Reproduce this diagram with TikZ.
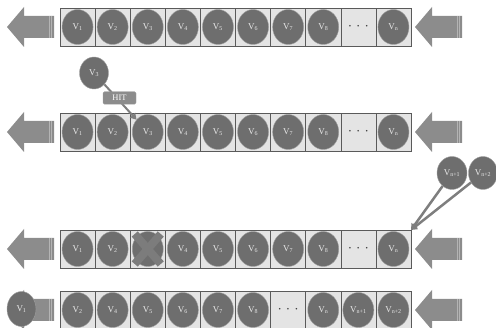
\documentclass[tikz,border=0pt]{standalone}
\usepackage{fontspec}
\setmainfont{Liberation Serif}
\usetikzlibrary{shapes.geometric,arrows.meta}
\definecolor{cellfill}{HTML}{E4E4E4}
\definecolor{cellline}{HTML}{5A5A5A}
\definecolor{ballfill}{HTML}{6E6E6E}
\definecolor{ballline}{HTML}{A0A0A0}
\definecolor{arrfill}{HTML}{8C8C8C}
\definecolor{linkcol}{HTML}{7E7E7E}
\definecolor{crosscol}{HTML}{7C7C7C}
\definecolor{txt}{HTML}{E8E8E8}
\tikzset{
 cellbox/.style={draw=cellline, line width=0.6pt, fill=cellfill, minimum width=35.1pt, minimum height=38pt, inner sep=0pt, outer sep=0pt},
 vball/.style={ellipse, fill=ballfill, draw=ballline, line width=0.4pt, minimum width=31pt, minimum height=35pt, inner sep=0pt, text=txt, font=\fontsize{9}{10}\selectfont},
 dotsnode/.style={text=black!75, font=\fontsize{10}{11}\selectfont\bfseries},
 link/.style={draw=linkcol, line width=2pt, -{Triangle[length=6pt,width=7pt]}},
 hitbox/.style={rounded corners=1.5pt, fill=arrfill, draw=ballline, line width=0.4pt, text=white, minimum width=33pt, minimum height=12.5pt, inner sep=0pt, font=\fontsize{8.5}{9}\selectfont},
 bigarrow/.style={fill=arrfill, draw=none},
 stripe/.style={draw=white, opacity=0.35, line width=0.5pt},
 crossline/.style={draw=crosscol, line width=8pt},
}
\newcommand\bigleftarrow[2]{%
 \path[bigarrow] (#1,#2) -- ++(17,-20) -- ++(0,9) -- ++(30,0) -- ++(0,22) -- ++(-30,0) -- ++(0,9) -- cycle;
 \draw[stripe] ({#1+42},{#2-11}) -- ++(0,22);
 \draw[stripe] ({#1+44.5},{#2-11}) -- ++(0,22);}
\def\dmark{d}
\def\xmark{x}
\newcommand\cellrow[3]{%
 \foreach \l [count=\i] in {#3} {
   \node[cellbox] (c#1-\i) at ({60+35.1*(\i-0.5)},#2) {};
   \ifx\l\dmark
     \node[dotsnode] (b#1-\i) at (c#1-\i) {·\enspace·\enspace·};
   \else\ifx\l\xmark
     \node[vball] (b#1-\i) at (c#1-\i) {};
     \draw[crossline] ([shift={(-13,-15)}]b#1-\i.center) -- ([shift={(13,15)}]b#1-\i.center);
     \draw[crossline] ([shift={(13,-15)}]b#1-\i.center) -- ([shift={(-13,15)}]b#1-\i.center);
   \else
     \node[vball] (b#1-\i) at (c#1-\i) {V\textsubscript{\l}};
   \fi\fi
 }}
\begin{document}
\begin{tikzpicture}[x=1pt,y=-1pt]
\useasboundingbox (0,0) rectangle (496,328);
% row 1
\bigleftarrow{7}{27}
\bigleftarrow{415}{27}
\cellrow{1}{27}{1,2,3,4,5,6,7,8,d,n}
% row 2
\bigleftarrow{7}{132}
\bigleftarrow{415}{132}
\cellrow{2}{132}{1,2,3,4,5,6,7,8,d,n}
\node[vball, minimum width=29pt, minimum height=32pt] (hitv) at (94,73) {V\textsubscript{3}};
\draw[link] (hitv) -- (b2-3);
\node[hitbox] (hit) at (119.5,98) {HIT};
% row 3
\bigleftarrow{7}{249}
\bigleftarrow{415}{249}
\cellrow{3}{249}{1,2,x,4,5,6,7,8,d,n}
\node[vball, minimum width=30pt, minimum height=33pt] (vn1) at (452,173) {V\textsubscript{n+1}};
\node[vball, minimum width=29pt, minimum height=33pt] (vn2) at (483,173) {V\textsubscript{n+2}};
\draw[link, line width=2.5pt] (vn1) -- (c3-10.north east);
\draw[link, line width=2.5pt] (vn2) -- (c3-10.north east);
% row 4
\bigleftarrow{7}{310}
\bigleftarrow{415}{310}
\cellrow{4}{310}{2,4,5,6,7,8,d,n,n+1,n+2}
\node[vball, minimum width=29pt, minimum height=35pt] (v1out) at (21.5,309) {V\textsubscript{1}};
\end{tikzpicture}
\end{document}
